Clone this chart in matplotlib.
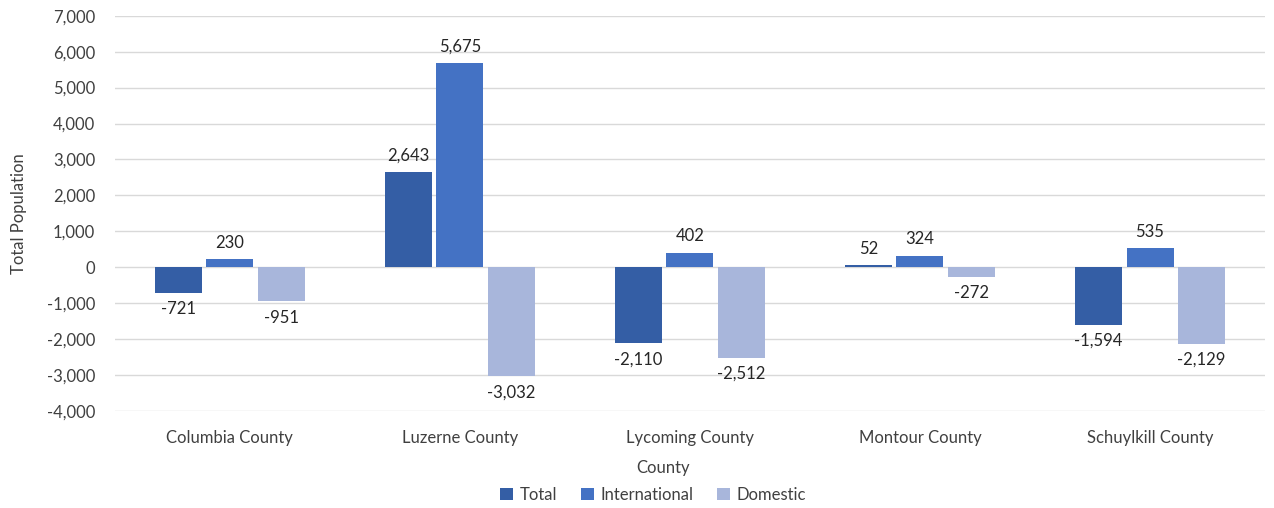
import matplotlib
matplotlib.use("Agg")
import matplotlib.pyplot as plt
import numpy as np

counties = ["Columbia County", "Luzerne County", "Lycoming County", "Montour County", "Schuylkill County"]
series_names = ["Total", "International", "Domestic"]
total = [-721, 2643, -2110, 52, -1594]
international = [230, 5675, 402, 324, 535]
domestic = [-951, -3032, -2512, -272, -2129]
colors = ["#345EA5", "#4472C4", "#A8B6DB"]

plt.rcParams['font.family'] = ['Lato', 'DejaVu Sans']
fig = plt.figure(figsize=(12.74, 5.08), dpi=100)
ax = fig.add_axes([0.090, 0.191, 0.903, 0.778])

x = np.arange(len(counties))
width = 0.204
step = 0.224
for i, (vals, name, c) in enumerate(zip([total, international, domestic], series_names, colors)):
    pos = x + (i - 1) * step
    bars = ax.bar(pos, vals, width=width, color=c, label=name, zorder=3)
    for p, v in zip(pos, vals):
        off = 6 if v >= 0 else -6
        ax.annotate(f"{v:,}", (p, v), xytext=(0, off), textcoords="offset points",
                    ha="center", va="bottom" if v >= 0 else "top", fontsize=12, color="#262626")

ax.set_ylim(-4000, 7000)
ax.set_xlim(-0.5, 4.5)
ax.set_yticks(np.arange(-4000, 7001, 1000))
ax.yaxis.set_major_formatter(matplotlib.ticker.FuncFormatter(lambda v, p: f"{int(v):,}"))
ax.set_xticks(x)
ax.set_xticklabels(counties)
ax.tick_params(axis='both', length=0, labelsize=12, colors="#404040")
ax.tick_params(axis='y', pad=14)
ax.tick_params(axis='x', pad=14)
ax.grid(axis='y', color="#D9D9D9", linewidth=1, zorder=0)
for s in ax.spines.values():
    s.set_visible(False)
ax.set_xlabel("County", fontsize=12, color="#404040")
ax.xaxis.set_label_coords(0.4765, -0.124)
ax.set_ylabel("Total Population", fontsize=12, color="#404040")
ax.yaxis.set_label_coords(-0.0765, 0.5)
fig.legend(*ax.get_legend_handles_labels(), loc="center", bbox_to_anchor=(0.5126, 0.026), ncol=3, frameon=False,
           fontsize=12, handlelength=0.8, handleheight=0.8, columnspacing=1.4, handletextpad=0.4,
           labelcolor="#404040")
fig.savefig("out.png", dpi=100)
